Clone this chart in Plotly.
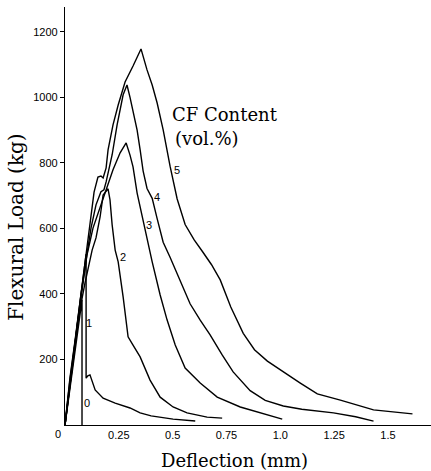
import plotly.graph_objects as go

# Deflection (mm) / Flexural load (kg) for each CF content (vol.%)
c0_x = [0.0, 0.079, 0.079]
c0_y = [0, 382, 0]

c1_x = [0.0, 0.098, 0.098, 0.106, 0.116, 0.140, 0.177, 0.233, 0.302, 0.349, 0.40, 0.502, 0.605]
c1_y = [0, 522, 143, 150, 153, 107, 82, 67, 52, 37, 28, 18, 12]

c2_x = [0.0, 0.033, 0.060, 0.093, 0.126, 0.144, 0.163, 0.177, 0.200, 0.209, 0.219, 0.233, 0.247,
        0.270, 0.293, 0.316, 0.349, 0.395, 0.442, 0.502, 0.567, 0.660, 0.730]
c2_y = [0, 168, 321, 434, 534, 571, 635, 702, 721, 687, 611, 534, 498,
        391, 269, 244, 208, 137, 85, 55, 37, 24, 21]

c3_x = [0.0, 0.028, 0.056, 0.079, 0.102, 0.130, 0.163, 0.195, 0.223, 0.256, 0.284, 0.302, 0.316,
        0.335, 0.363, 0.381, 0.405, 0.442, 0.474, 0.512, 0.558, 0.628, 0.707, 0.814, 0.907, 1.009]
c3_y = [0, 153, 290, 412, 519, 601, 663, 727, 779, 831, 861, 824, 788,
        708, 626, 565, 498, 397, 321, 244, 174, 128, 85, 55, 37, 18]

c4_x = [0.0, 0.023, 0.051, 0.074, 0.098, 0.121, 0.144, 0.167, 0.181, 0.191, 0.219, 0.242, 0.270,
        0.288, 0.302, 0.316, 0.335, 0.349, 0.363, 0.381, 0.405, 0.428, 0.456, 0.488, 0.535, 0.581,
        0.628, 0.674, 0.730, 0.781, 0.860, 0.930, 1.014, 1.100, 1.247, 1.350, 1.433]
c4_y = [0, 137, 275, 397, 504, 602, 672, 712, 718, 742, 825, 916, 1008,
        1038, 1000, 960, 900, 840, 775, 722, 692, 630, 558, 512, 440, 370,
        320, 275, 214, 162, 105, 75, 58, 48, 37, 25, 12]

c5_x = [0.0, 0.023, 0.047, 0.070, 0.093, 0.116, 0.135, 0.153, 0.167, 0.177, 0.191, 0.200, 0.223,
        0.247, 0.279, 0.316, 0.353, 0.381, 0.405, 0.428, 0.456, 0.488, 0.521, 0.558, 0.600, 0.640,
        0.680, 0.721, 0.770, 0.828, 0.880, 0.940, 1.000, 1.093, 1.172, 1.279, 1.433, 1.614]
c5_y = [0, 144, 260, 382, 498, 620, 711, 757, 760, 754, 785, 840, 916,
        977, 1047, 1096, 1148, 1084, 1038, 983, 901, 790, 690, 612, 565, 528,
        490, 443, 360, 280, 230, 195, 168, 128, 95, 76, 46, 34]

curve_names = ["0", "1", "2", "3", "4", "5"]
label_x = [0.102, 0.112, 0.270, 0.388, 0.428, 0.521]
label_y = [67, 312, 513, 611, 696, 779]

x_tickvals = [0, 0.25, 0.5, 0.75, 1.0, 1.25, 1.5]
x_ticktext = ["", "0.25", "0.5", "0.75", "1.0", "1.25", "1.5"]
y_tickvals = [200, 400, 600, 800, 1000, 1200]
y_ticktext = ["200", "400", "600", "800", "1000", "1200"]

curves = [(c0_x, c0_y), (c1_x, c1_y), (c2_x, c2_y), (c3_x, c3_y), (c4_x, c4_y), (c5_x, c5_y)]

fig = go.Figure()
for (xs, ys), name in zip(curves, curve_names):
    fig.add_trace(go.Scatter(x=xs, y=ys, mode="lines", name=name,
                             line=dict(color="black", width=1.4), showlegend=False))

annotations = []
for name, lx, ly in zip(curve_names, label_x, label_y):
    annotations.append(dict(x=lx, y=ly, xref="x", yref="y", text=name, showarrow=False,
                            font=dict(family="Liberation Sans", size=11, color="black"),
                            xanchor="center", yanchor="middle"))

annotations += [
    dict(x=0.488, y=947, xref="x", yref="y", text="CF Content", showarrow=False,
         xanchor="left", yanchor="middle", font=dict(family="DejaVu Serif", size=18, color="black")),
    dict(x=0.502, y=876, xref="x", yref="y", text="(vol.%)", showarrow=False,
         xanchor="left", yanchor="middle", font=dict(family="DejaVu Serif", size=18, color="black")),
    dict(x=0.786, y=-0.084, xref="x", yref="paper", text="Deflection (mm)", showarrow=False,
         xanchor="center", yanchor="middle", font=dict(family="DejaVu Serif", size=18, color="black")),
    dict(x=-0.134, y=0.474, xref="paper", yref="paper", text="Flexural Load (kg)", showarrow=False,
         textangle=-90, xanchor="center", yanchor="middle",
         font=dict(family="DejaVu Serif", size=20, color="black")),
    dict(x=0, y=0, xref="x", yref="y", text="0", showarrow=False, xshift=-7, yshift=-9,
         xanchor="center", yanchor="middle",
         font=dict(family="Liberation Sans", size=11, color="black")),
]

fig.update_layout(
    width=431, height=471,
    margin=dict(l=65, r=0, t=7, b=46),
    paper_bgcolor="white", plot_bgcolor="white",
    annotations=annotations,
    xaxis=dict(range=[0, 1.70], tickvals=x_tickvals, ticktext=x_ticktext,
               showgrid=False, zeroline=False, showline=True, linecolor="black", linewidth=1.2,
               ticks="", tickfont=dict(family="Liberation Sans", size=11, color="black")),
    yaxis=dict(range=[0, 1276], tickvals=y_tickvals, ticktext=y_ticktext,
               showgrid=False, zeroline=False, showline=True, linecolor="black", linewidth=1.2,
               ticks="outside", ticklen=4, tickcolor="black",
               tickfont=dict(family="Liberation Sans", size=11, color="black")),
)

fig.write_html("out.html")
